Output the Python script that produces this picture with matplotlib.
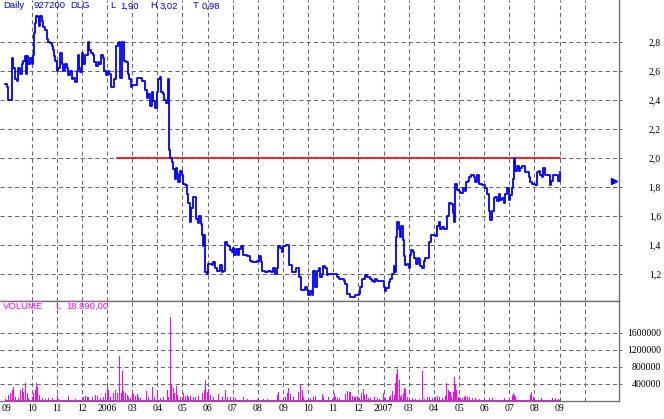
import numpy as np
import matplotlib
matplotlib.use("Agg")
import matplotlib.pyplot as plt

# daily close (day index from first bar, price)
price_day = [0, 2, 3, 7, 8, 10, 12, 13, 15, 17, 18, 20, 21, 22, 23, 25, 27, 28, 29, 30,
             31, 33, 34, 35, 37, 38, 40, 42, 43, 45, 47, 48, 49, 50, 52, 53, 55, 57, 58, 60,
             62, 63, 65, 67, 68, 70, 72, 73, 74, 75, 77, 78, 80, 83, 84, 86, 88, 89, 91, 93,
             94, 96, 98, 99, 101, 103, 104, 106, 109, 111, 113, 114, 115, 117, 119, 121, 123, 124, 126, 127,
             132, 137, 140, 142, 143, 145, 147, 148, 150, 152, 153, 155, 156, 158, 159, 161, 163, 164, 165, 167,
             168, 170, 171, 172, 173, 175, 177, 178, 180, 182, 183, 185, 186, 188, 191, 193, 194, 196, 197, 198,
             199, 200, 202, 203, 207, 208, 210, 212, 215, 217, 218, 220, 222, 223, 225, 227, 228, 229, 231, 233,
             234, 236, 238, 242, 245, 247, 252, 254, 256, 257, 260, 263, 266, 268, 270, 272, 273, 275, 277, 278,
             281, 284, 287, 291, 294, 296, 300, 302, 303, 305, 307, 308, 310, 312, 314, 315, 317, 318, 320, 322,
             323, 332, 334, 339, 340, 342, 345, 350, 354, 355, 357, 360, 362, 365, 367, 369, 370, 372, 379, 380,
             381, 384, 385, 387, 389, 390, 391, 392, 394, 395, 396, 398, 399, 400, 402, 404, 405, 406, 408, 409,
             411, 413, 414, 415, 417, 419, 420, 424, 426, 430, 432, 434, 435, 437, 439, 442, 444, 446, 448, 449,
             450, 452, 454, 455, 458, 460, 461, 463, 464, 466, 469, 470, 472, 474, 477, 480, 482, 484, 485, 487,
             489, 490, 492, 494, 495, 497, 499, 500, 502, 504, 505, 507, 508, 509, 510, 512, 514, 515, 517, 520,
             524, 525, 527, 530, 532, 534, 535, 537, 538, 540, 545, 546, 548, 553, 555]
price_close = [2.51, 2.49, 2.40, 2.69, 2.62, 2.54, 2.53, 2.62, 2.58, 2.65, 2.67, 2.70, 2.58, 2.70, 2.65, 2.69, 2.65, 2.71, 2.86, 2.93,
               2.98, 2.97, 2.91, 2.98, 2.94, 2.90, 2.88, 2.82, 2.80, 2.79, 2.77, 2.74, 2.70, 2.67, 2.60, 2.62, 2.72, 2.65, 2.60, 2.65,
               2.62, 2.57, 2.60, 2.54, 2.55, 2.52, 2.60, 2.71, 2.62, 2.59, 2.72, 2.65, 2.71, 2.80, 2.74, 2.72, 2.71, 2.66, 2.63, 2.66,
               2.65, 2.71, 2.69, 2.60, 2.57, 2.60, 2.58, 2.49, 2.54, 2.77, 2.79, 2.80, 2.55, 2.80, 2.67, 2.66, 2.58, 2.54, 2.49, 2.50,
               2.55, 2.53, 2.47, 2.41, 2.44, 2.36, 2.45, 2.39, 2.34, 2.45, 2.54, 2.56, 2.45, 2.44, 2.40, 2.38, 2.54, 2.05, 2.00, 1.97,
               1.92, 1.85, 1.93, 1.89, 1.83, 1.91, 1.88, 1.82, 1.81, 1.75, 1.69, 1.56, 1.65, 1.73, 1.58, 1.55, 1.60, 1.54, 1.47, 1.39,
               1.47, 1.21, 1.20, 1.27, 1.26, 1.28, 1.24, 1.22, 1.26, 1.21, 1.22, 1.42, 1.40, 1.39, 1.36, 1.35, 1.38, 1.33, 1.37, 1.33,
               1.37, 1.39, 1.33, 1.32, 1.29, 1.28, 1.29, 1.32, 1.28, 1.22, 1.21, 1.22, 1.21, 1.24, 1.20, 1.24, 1.39, 1.38, 1.35, 1.39,
               1.40, 1.26, 1.21, 1.24, 1.18, 1.09, 1.11, 1.09, 1.05, 1.08, 1.05, 1.22, 1.11, 1.22, 1.24, 1.18, 1.20, 1.25, 1.24, 1.19,
               1.20, 1.18, 1.16, 1.15, 1.13, 1.06, 1.04, 1.05, 1.06, 1.11, 1.16, 1.19, 1.18, 1.16, 1.15, 1.14, 1.16, 1.15, 1.11, 1.08,
               1.10, 1.14, 1.16, 1.20, 1.25, 1.21, 1.45, 1.56, 1.51, 1.45, 1.53, 1.43, 1.32, 1.26, 1.27, 1.24, 1.33, 1.36, 1.35, 1.31,
               1.27, 1.31, 1.30, 1.25, 1.24, 1.29, 1.31, 1.42, 1.47, 1.46, 1.53, 1.56, 1.51, 1.52, 1.51, 1.60, 1.69, 1.68, 1.62, 1.56,
               1.82, 1.78, 1.77, 1.76, 1.79, 1.77, 1.83, 1.84, 1.87, 1.88, 1.87, 1.83, 1.88, 1.82, 1.81, 1.79, 1.75, 1.63, 1.57, 1.63,
               1.72, 1.73, 1.70, 1.75, 1.71, 1.72, 1.69, 1.75, 1.79, 1.71, 1.74, 1.79, 1.85, 2.00, 1.91, 1.94, 1.91, 1.93, 1.94, 1.90,
               1.87, 1.83, 1.82, 1.81, 1.90, 1.91, 1.88, 1.87, 1.93, 1.88, 1.81, 1.84, 1.88, 1.84, 1.90]

# daily volume (only the visible spikes)
vol_day = [0, 3, 5, 7, 8, 10, 13, 15, 17, 18, 20, 22, 23, 27, 28, 30, 31, 32, 34, 37,
           40, 43, 47, 52, 53, 63, 70, 77, 78, 80, 82, 83, 87, 90, 92, 95, 98, 100, 102, 103,
           105, 108, 110, 112, 114, 116, 117, 118, 120, 122, 123, 125, 127, 128, 130, 132, 133, 135, 141, 143,
           147, 149, 152, 155, 158, 162, 163, 165, 166, 168, 169, 171, 172, 175, 178, 180, 182, 183, 185, 188,
           190, 193, 197, 199, 200, 202, 203, 205, 208, 213, 217, 220, 222, 225, 228, 230, 238, 242, 252, 258,
           262, 272, 273, 280, 282, 283, 285, 288, 293, 295, 297, 298, 305, 308, 310, 317, 318, 323, 327, 329,
           330, 332, 334, 340, 342, 344, 345, 347, 349, 350, 352, 354, 356, 358, 359, 361, 363, 365, 369, 372,
           374, 378, 380, 384, 385, 387, 389, 390, 391, 392, 394, 395, 396, 398, 399, 400, 402, 404, 407, 410,
           414, 417, 419, 422, 424, 427, 430, 432, 434, 437, 440, 441, 443, 444, 445, 446, 448, 449, 450, 451,
           453, 455, 457, 459, 460, 462, 464, 467, 470, 474, 484, 487, 499, 507, 508, 509, 510, 525, 526, 528,
           536, 547, 550, 553]
volume = [39000, 140000, 179000, 257000, 335000, 101000, 62000, 257000, 296000, 218000, 413000, 179000, 62000, 101000, 179000, 257000, 413000, 335000, 140000, 62000,
          39000, 62000, 62000, 140000, 39000, 117000, 39000, 39000, 86000, 117000, 86000, 101000, 86000, 140000, 117000, 62000, 101000, 179000, 335000, 257000,
          101000, 179000, 257000, 179000, 1053000, 179000, 702000, 234000, 179000, 140000, 101000, 62000, 218000, 164000, 117000, 164000, 101000, 62000, 234000, 86000,
          335000, 101000, 257000, 62000, 86000, 257000, 101000, 1973000, 374000, 296000, 179000, 351000, 140000, 101000, 179000, 117000, 140000, 101000, 117000, 101000,
          86000, 117000, 179000, 257000, 491000, 218000, 273000, 140000, 86000, 164000, 101000, 257000, 101000, 86000, 86000, 62000, 86000, 39000, 39000, 39000,
          39000, 140000, 218000, 101000, 179000, 296000, 164000, 86000, 218000, 374000, 257000, 101000, 62000, 86000, 117000, 164000, 101000, 86000, 39000, 179000,
          86000, 62000, 62000, 164000, 234000, 218000, 218000, 117000, 101000, 86000, 117000, 78000, 179000, 281000, 140000, 164000, 62000, 62000, 86000, 62000,
          39000, 179000, 62000, 86000, 140000, 234000, 140000, 413000, 624000, 741000, 491000, 101000, 140000, 179000, 296000, 273000, 86000, 62000, 62000, 39000,
          39000, 702000, 39000, 86000, 86000, 62000, 86000, 117000, 86000, 62000, 117000, 413000, 257000, 218000, 218000, 86000, 218000, 554000, 390000, 257000,
          86000, 62000, 62000, 86000, 117000, 86000, 101000, 62000, 62000, 39000, 62000, 62000, 62000, 117000, 179000, 140000, 86000, 140000, 211000, 86000,
          62000, 62000, 62000, 39000]
vol_floor = 35000

month_labels = ["09", "10", "11", "12", "2006", "03", "04", "05", "06", "07", "08", "09",
                "10", "11", "12", "2007", "03", "04", "05", "06", "07", "08", "09"]
price_ticks = [1.2, 1.4, 1.6, 1.8, 2.0, 2.2, 2.4, 2.6, 2.8]
price_tick_labels = ["1,2", "1,4", "1,6", "1,8", "2,0", "2,2", "2,4", "2,6", "2,8"]
vol_ticks = [400000, 800000, 1200000, 1600000]

resist_level = 2.0
resist_from, resist_to = 112, 555
last_marker_day, last_marker_price = 608.5, 1.84

header = [(3, "Daily"), (33, "927200"), (70.5, "DLG"), (110, "L"), (120, "1,90"),
          (150.5, "H"), (160, "3,02"), (193, "T"), (201.5, "0,98")]
vol_header = [(3, "VOLUME"), (55.5, "L"), (66.5, "18.890,00")]

grid_c = "#6a6a6a"
axis_c = "#747474"
blue = "#0000ff"
pink = "#ff00ff"
serif = "Liberation Serif"
sans = "Liberation Sans"

W, H = 664, 419
fig = plt.figure(figsize=(W / 100, H / 100), dpi=100)
fig.patch.set_facecolor("white")
ax = fig.add_axes([0, 1 - 301 / H, 618.7 / W, 301 / H])
axv = fig.add_axes([0, 1 - 401 / H, 618.7 / W, 100 / H], sharex=ax)

month_pos = 1.5 + 25.14 * np.arange(len(month_labels) + 1)
dash = dict(color=grid_c, lw=0.75, ls=(0, (4, 3)), zorder=1)

# price panel
for d in month_pos[1:]:
    ax.axvline(d, **dash)
    axv.axvline(d, **dash)
for p in price_ticks:
    ax.axhline(p, **dash)
for v in vol_ticks:
    axv.axhline(v, **dash)

ax.step(price_day, price_close, where="post", color=blue, lw=1.3, zorder=3)
ax.plot([resist_from, resist_to], [resist_level, resist_level], color="#ff0000", lw=1.2, zorder=2)
ax.plot(last_marker_day, last_marker_price, marker=">", ms=4, color=blue, clip_on=False, zorder=4)

ax.set_xlim(-5, 613.7)
ax.set_ylim(1.0116, 3.0881)

# volume panel
axv.bar(0, vol_floor, width=price_day[-1], align="edge", color=pink, lw=0, zorder=2)
axv.bar(vol_day, volume, width=1.0, color=pink, lw=0, zorder=2)
axv.set_ylim(0, 2.342e6)

for a in (ax, axv):
    a.set_facecolor("white")
    a.spines["left"].set_visible(False)
    for s in ("right", "bottom", "top"):
        a.spines[s].set_color(axis_c)
        a.spines[s].set_linewidth(1.0)
    a.yaxis.tick_right()
    a.tick_params(axis="y", direction="out", length=2, color=axis_c, width=0.8,
                  labelsize=7, pad=28.4, labelcolor="black")
ax.spines["top"].set_visible(False)

ax.set_yticks(price_ticks)
ax.set_yticklabels(price_tick_labels, fontfamily=serif, ha="right")
axv.set_yticks(vol_ticks)
axv.set_yticklabels([str(v) for v in vol_ticks], fontfamily=serif, ha="right")

ax.tick_params(axis="x", length=0, labelbottom=False)
axv.set_xticks(month_pos[:len(month_labels)])
axv.set_xticklabels(month_labels, fontfamily=serif, fontsize=7)
axv.tick_params(axis="x", length=0, pad=2)

for x, s in header:
    fig.text(x / W, 1 - 6 / H, s, color=blue, fontsize=6.8, family=sans, va="center", ha="left")
for x, s in vol_header:
    fig.text(x / W, 1 - 306.5 / H, s, color=pink, fontsize=6.8, family=sans, va="center", ha="left")

fig.savefig("out.png", dpi=100)
